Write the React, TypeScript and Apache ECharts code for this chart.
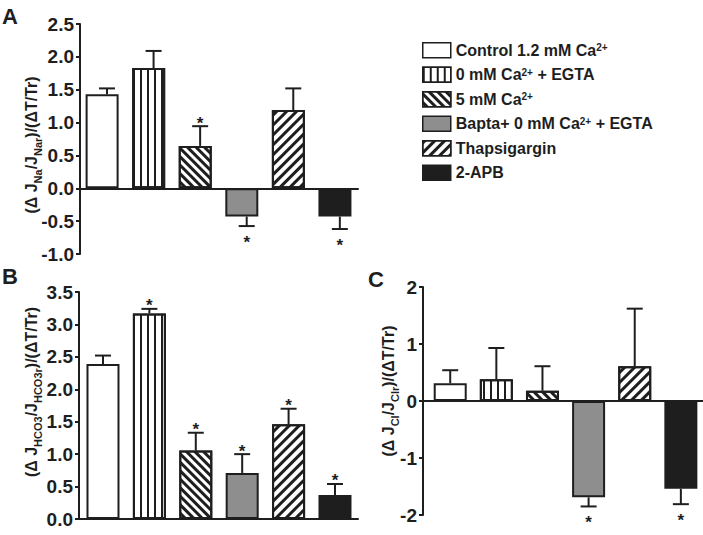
import React, { useEffect, useRef } from "react";
import * as echarts from "echarts";

const legendNames = [
  "Control 1.2 mM Ca2+",
  "0 mM Ca2+ + EGTA",
  "5 mM Ca2+",
  "Bapta+ 0 mM Ca2+ + EGTA",
  "Thapsigargin",
  "2-APB",
];

const naMean = [1.43, 1.83, 0.645, -0.43, 1.19, -0.43];
const naErr = [0.09, 0.26, 0.3, 0.145, 0.33, 0.19];
const naStar = [0, 0, 1, 1, 0, 1];

const hco3Mean = [2.39, 3.17, 1.055, 0.71, 1.46, 0.37];
const hco3Err = [0.13, 0.07, 0.275, 0.29, 0.24, 0.17];
const hco3Star = [0, 1, 1, 1, 1, 1];

const clMean = [0.31, 0.38, 0.18, -1.69, 0.61, -1.54];
const clErr = [0.23, 0.55, 0.43, 0.16, 1.01, 0.27];
const clStar = [0, 0, 0, 1, 0, 1];

const FONT = "'Liberation Sans', Arial, sans-serif";
const INK = "#1e1e1e";

const styles: any[] = [
  { color: "#ffffff", borderColor: INK, borderWidth: 2 },
  {
    color: "#ffffff",
    borderColor: INK,
    borderWidth: 2,
    decal: { symbol: "rect", symbolSize: 1, color: INK, backgroundColor: "#ffffff", dashArrayX: [1.4, 4.4], dashArrayY: [10, 0], rotation: 0 },
  },
  {
    color: "#ffffff",
    borderColor: INK,
    borderWidth: 2,
    decal: { symbol: "rect", symbolSize: 1, color: INK, backgroundColor: "#ffffff", dashArrayX: [10, 0], dashArrayY: [3, 3], rotation: Math.PI / 4 },
  },
  { color: "#8e8e8e", borderColor: INK, borderWidth: 2 },
  {
    color: "#ffffff",
    borderColor: INK,
    borderWidth: 2,
    decal: { symbol: "rect", symbolSize: 1, color: INK, backgroundColor: "#ffffff", dashArrayX: [10, 0], dashArrayY: [2.6, 3.4], rotation: -Math.PI / 4 },
  },
  { color: INK, borderColor: INK, borderWidth: 2 },
];

function App() {
  const ref = useRef<HTMLDivElement>(null);
  useEffect(() => {
    if (!ref.current) return;
    const chart = echarts.init(ref.current, null, { renderer: "svg" });

    const panels = [
      { grid: { left: 80, top: 24, width: 278, height: 230 }, xmin: -0.58, xmax: 5.39, ymin: -1, ymax: 2.5, interval: 0.5, dec: 1, mean: naMean, err: naErr, star: naStar },
      { grid: { left: 79, top: 292, width: 279, height: 227 }, xmin: -0.517, xmax: 5.496, ymin: 0, ymax: 3.5, interval: 0.5, dec: 1, mean: hco3Mean, err: hco3Err, star: hco3Star },
      { grid: { left: 423, top: 287, width: 280, height: 228 }, xmin: -0.59, xmax: 5.48, ymin: -2, ymax: 2, interval: 1, dec: 0, mean: clMean, err: clErr, star: clStar },
    ];

    const grids = panels.map((p) => ({ ...p.grid, containLabel: false }));
    const xAxes = panels.map((p, k) => ({
      type: "value",
      gridIndex: k,
      min: p.xmin,
      max: p.xmax,
      axisLine: { show: true, onZero: true, lineStyle: { color: INK, width: 2 } },
      axisTick: { show: false },
      axisLabel: { show: false },
      splitLine: { show: false },
    }));
    const yAxes = panels.map((p, k) => ({
      type: "value",
      gridIndex: k,
      min: p.ymin,
      max: p.ymax,
      interval: p.interval,
      axisLine: { show: true, onZero: false, lineStyle: { color: INK, width: 2 } },
      axisTick: { show: true, length: 4, lineStyle: { color: INK, width: 2 } },
      axisLabel: {
        margin: 6,
        color: INK,
        fontSize: 19,
        fontWeight: "bold",
        fontFamily: FONT,
        formatter: (v: number) => v.toFixed(p.dec),
      },
      splitLine: { show: false },
    }));

    const series: any[] = [];
    panels.forEach((p, k) => {
      series.push({
        type: "bar",
        xAxisIndex: k,
        yAxisIndex: k,
        barWidth: 33,
        data: p.mean.map((v, i) => ({ value: [i, v], itemStyle: styles[i] })),
        z: 2,
      });
      series.push({
        type: "custom",
        xAxisIndex: k,
        yAxisIndex: k,
        encode: { x: 0, y: 1 },
        z: 3,
        clip: false,
        data: p.mean.map((v, i) => [i, v, p.err[i], p.star[i]]),
        renderItem: (params: any, api: any) => {
          const i = api.value(0);
          const v = api.value(1);
          const e = api.value(2);
          const s = api.value(3);
          const end = v >= 0 ? v + e : v - e;
          const p0 = api.coord([i, v]);
          const p1 = api.coord([i, end]);
          const children: any[] = [
            { type: "line", shape: { x1: p0[0], y1: p0[1], x2: p1[0], y2: p1[1] }, style: { stroke: INK, lineWidth: 2 } },
            { type: "line", shape: { x1: p1[0] - 8, y1: p1[1], x2: p1[0] + 8, y2: p1[1] }, style: { stroke: INK, lineWidth: 2 } },
          ];
          if (s) {
            const y = v >= 0 ? p1[1] - 3 : p1[1] + 16;
            children.push({
              type: "text",
              style: {
                text: "*",
                x: p1[0],
                y,
                fill: INK,
                font: "bold 17px " + FONT,
                align: "center",
                verticalAlign: "middle",
                textAlign: "center",
                textVerticalAlign: "middle",
              },
            });
          }
          return { type: "group", children };
        },
      });
    });

    legendNames.forEach((n, i) => {
      series.push({
        type: "bar",
        name: n,
        xAxisIndex: 0,
        yAxisIndex: 0,
        data: [],
        itemStyle: styles[i],
      });
    });

    const titleRich = {
      m: { fontSize: 16, fontWeight: "bold", fontFamily: FONT, fill: INK, color: INK, lineHeight: 24 },
      s: { fontSize: 11, fontWeight: "bold", fontFamily: FONT, fill: INK, color: INK, lineHeight: 11, verticalAlign: "bottom" },
    };
    const mkTitle = (x: number, y: number, sub1: string, sub2: string) => ({
      type: "text",
      x,
      y,
      rotation: Math.PI / 2,
      style: {
        text: `{m|(\u0394 J}{s|${sub1}}{m|/J}{s|${sub2}}{m|)/(\u0394T/Tr)}`,
        rich: titleRich,
        align: "center",
        verticalAlign: "middle",
        fill: INK,
      },
    });
    const mkLetter = (x: number, y: number, t: string) => ({
      type: "text",
      x,
      y,
      style: { text: t, font: "bold 22px " + FONT, fill: INK, align: "left", verticalAlign: "top" },
    });

    chart.setOption({
      animation: false,
      grid: grids,
      xAxis: xAxes,
      yAxis: yAxes,
      series,
      legend: {
        orient: "vertical",
        left: 417,
        top: 37,
        itemWidth: 28,
        itemHeight: 15,
        itemGap: 8,
        icon: "rect",
        selectedMode: false,
        data: legendNames,
        itemStyle: { borderColor: INK, borderWidth: 1.5 },
        textStyle: {
          fontSize: 16,
          fontWeight: "bold",
          fontFamily: FONT,
          color: INK,
          lineHeight: 15,
          padding: [0, 0, 0, 0],
          rich: {
            sup: { fontSize: 10, fontWeight: "bold", fontFamily: FONT, color: INK, verticalAlign: "top", lineHeight: 10 },
          },
        },
        formatter: (name: string) => name.replace(/Ca2\+/g, "Ca{sup|2+}"),
      },
      graphic: [
        mkLetter(2, 5, "A"),
        mkLetter(2, 265, "B"),
        mkLetter(368, 268, "C"),
        mkTitle(31, 145, "Na", "Nar"),
        mkTitle(31, 392, "HCO3", "HCO3r"),
        mkTitle(388, 391, "Cl", "Clr"),
      ],
    });
    return () => chart.dispose();
  }, []);
  return <div ref={ref} style={{ position: "absolute", left: 0, top: 0, width: 703, height: 535 }} />;
}

export default App;
